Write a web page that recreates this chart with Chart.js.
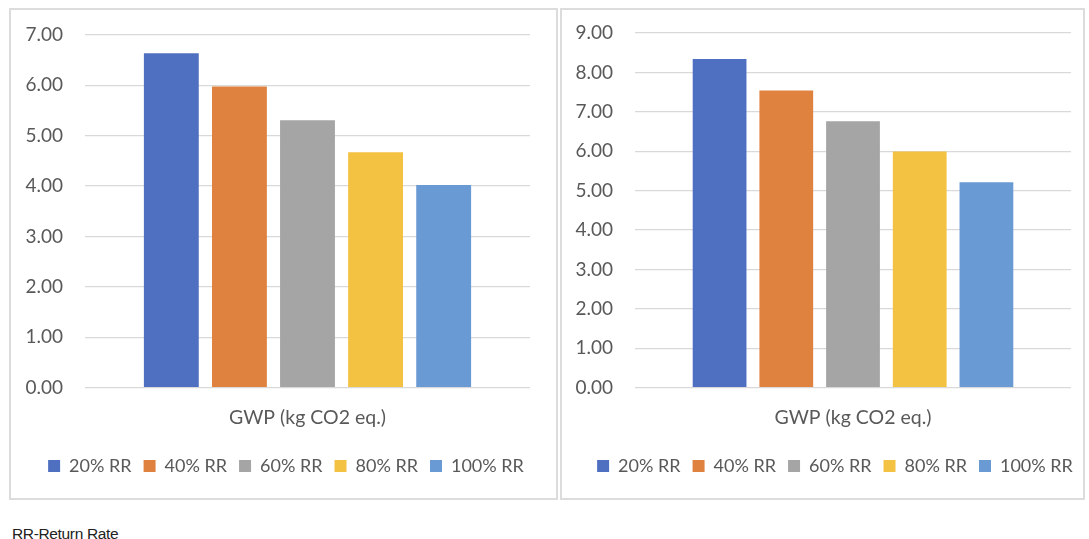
<!DOCTYPE html>
<html>
<head>
<meta charset="utf-8">
<script src="https://cdn.jsdelivr.net/npm/chart.js@4/dist/chart.umd.min.js"></script>
<style>
  html, body { margin: 0; padding: 0; background: #ffffff; }
  body { width: 1089px; height: 539px; position: relative; overflow: hidden; }
  .panel { position: absolute; top: 8px; height: 492px; border: 2px solid #dcdcdc; box-sizing: border-box; background: #fff; overflow: hidden; }
  #p1 { left: 9px; width: 549px; }
  #p2 { left: 560px; width: 525px; }
  .panel canvas { display: block; position: absolute; left: 0; top: 0; }
  #caption { position: absolute; left: 12px; top: 525px; font-family: "Liberation Sans", Arial, sans-serif; font-size: 15.5px; color: #222; letter-spacing: -0.35px; }
</style>
</head>
<body>
<div class="panel" id="p1"><canvas id="c1"></canvas></div>
<div class="panel" id="p2"><canvas id="c2"></canvas></div>
<div id="caption">RR-Return Rate</div>
<script>
// ---- data ----
const categories = ["GWP (kg CO2 eq.)"];
const seriesNames = ["20% RR", "40% RR", "60% RR", "80% RR", "100% RR"];
const leftValues = [6.64, 5.98, 5.31, 4.67, 4.02];
const rightValues = [8.34, 7.54, 6.76, 5.99, 5.21];
const leftTicksMax = 7;
const rightTicksMax = 9;
const seriesColors = ["#4F70C0", "#E0823F", "#A5A5A5", "#F4C242", "#6A9AD4"];

const FONT = "Lato, 'Open Sans', sans-serif";

function makeChart(id, values, yMax, opts) {
  const datasets = seriesNames.map((name, i) => ({
    label: name,
    data: [values[i]],
    backgroundColor: seriesColors[i],
    borderWidth: 0,
    categoryPercentage: 0.765,
    barPercentage: 0.806
  }));
  const canvas = document.getElementById(id);
  canvas.width = opts.w; canvas.height = opts.h;
  canvas.style.width = opts.w + "px"; canvas.style.height = opts.h + "px";
  return new Chart(canvas, {
    type: 'bar',
    data: { labels: categories, datasets },
    options: {
      responsive: false,
      animation: false,
      devicePixelRatio: 1,
      layout: { padding: { left: 0, right: 0, top: opts.padTop, bottom: opts.padBottom } },
      plugins: {
        tooltip: { enabled: false },
        legend: {
          position: 'bottom',
          labels: {
            font: { family: FONT, size: 18 },
            color: '#595959',
            boxWidth: 12, boxHeight: 12,
            padding: 12
          }
        }
      },
      scales: {
        x: {
          grid: { display: false },
          border: { display: false },
          afterFit: (s) => { s.height += opts.xExtra; },
          ticks: { font: { family: FONT, size: 19.5 }, color: '#595959', padding: 10 }
        },
        y: {
          min: 0, max: yMax,
          afterFit: (s) => { s.width = opts.yWidth; s.paddingTop = 0; },
          grid: { color: '#d9d9d9', lineWidth: 1.3, drawTicks: false },
          border: { display: false },
          ticks: {
            stepSize: 1,
            padding: opts.tickPad,
            font: { family: FONT, size: 19 },
            color: '#595959',
            callback: (v) => Number(v).toFixed(2)
          }
        },
        ySpacer: {
          position: 'right',
          display: true,
          grid: { display: false },
          border: { display: false },
          ticks: { display: false },
          afterFit: (s) => { s.width = opts.rightSpace; }
        }
      }
    }
  });
}

makeChart('c1', leftValues, leftTicksMax, { w: 550, h: 488, padTop: 25, padBottom: 13, yWidth: 74, rightSpace: 31, xExtra: 6, tickPad: 22 });
makeChart('c2', rightValues, rightTicksMax, { w: 546, h: 488, padTop: 23, padBottom: 13, yWidth: 73, rightSpace: 37, xExtra: 6, tickPad: 22 });
</script>
</body>
</html>
